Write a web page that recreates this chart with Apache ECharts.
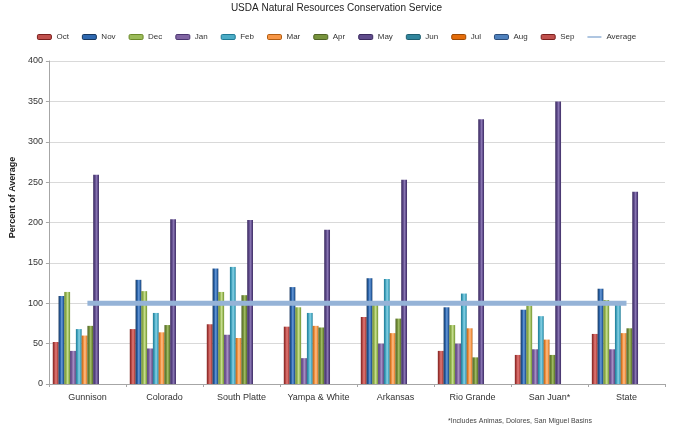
<!DOCTYPE html>
<html><head><meta charset="utf-8">
<script src="https://cdn.jsdelivr.net/npm/echarts@6/dist/echarts.min.js"></script>
<style>html,body{margin:0;padding:0;background:#fff}#c{width:673px;height:431px}</style>
</head><body><div id="c"></div>
<script>
const categories = ['Gunnison','Colorado','South Platte','Yampa & White','Arkansas','Rio Grande','San Juan*','State'];
const months = ['Oct','Nov','Dec','Jan','Feb','Mar','Apr','May','Jun','Jul','Aug','Sep'];
const octVals = [52, 68, 74, 71, 83, 41, 36, 62];
const novVals = [109, 129, 143, 120, 131, 95, 92, 118];
const decVals = [114, 115, 114, 95, 99, 73, 97, 104];
const janVals = [41, 44, 61, 32, 50, 50, 43, 43];
const febVals = [68, 88, 145, 88, 130, 112, 84, 98];
const marVals = [60, 64, 57, 72, 63, 69, 55, 63];
const aprVals = [72, 73, 110, 70, 81, 33, 36, 69];
const mayVals = [259, 204, 203, 191, 253, 328, 350, 238];
const junVals = [null, null, null, null, null, null, null, null];
const julVals = [null, null, null, null, null, null, null, null];
const augVals = [null, null, null, null, null, null, null, null];
const sepVals = [null, null, null, null, null, null, null, null];
const averageVals = [100, 100, 100, 100, 100, 100, 100, 100];
const yTicks = [0, 50, 100, 150, 200, 250, 300, 350, 400];

const monthData = [octVals, novVals, decVals, janVals, febVals, marVals, aprVals, mayVals, junVals, julVals, augVals, sepVals];
const colors = [
  ['#7a1f1d','#c0504d','#e07b78'],
  ['#17375e','#2e68b0','#6a9ad6'],
  ['#6b8a2a','#9bbb59','#c6dc8e'],
  ['#4b3570','#8064a2','#a992c6'],
  ['#1f7a94','#4bacc6','#8ed3e6'],
  ['#b35e12','#f79646','#fbbf8a'],
  ['#4f6326','#77933c','#a2bd67'],
  ['#3a2a5e','#5f4b8b','#8a77b3'],
  ['#1f5f70','#31859c','#6bb6c9'],
  ['#9c4a05','#e46c0a','#f5a25c'],
  ['#2c4d7a','#4f81bd','#86a9d6'],
  ['#7a1f1d','#c0504d','#e07b78']
];
function grad(c){
  return new echarts.graphic.LinearGradient(0,0,1,0,[
    {offset:0,color:c[0]},{offset:0.35,color:c[1]},{offset:0.55,color:c[2]},{offset:0.8,color:c[1]},{offset:1,color:c[0]}
  ]);
}
const series = months.map((m,i)=>({
  name:m, type:'bar', data:monthData[i], barGap:'0%', barCategoryGap:'10%',
  itemStyle:{color:grad(colors[i])}
}));
series.push({
  name:'Average', type:'line', data:averageVals, symbol:'none', z:5,
  lineStyle:{color:'#95b3d7', width:5}, itemStyle:{color:'#95b3d7'}
});
const font = 'Liberation Sans, Arial, sans-serif';
const chart = echarts.init(document.getElementById('c'));
chart.setOption({
  animation:false,
  textStyle:{fontFamily:font},
  title:{text:'USDA Natural Resources Conservation Service', left:'center', top:-2,
    textStyle:{fontSize:10, fontWeight:'normal', color:'#222', fontFamily:font}},
  legend:{top:28, left:'center', itemWidth:14, itemHeight:5, itemGap:13,
    textStyle:{fontSize:8, color:'#333', fontFamily:font},
    data:months.map((m,i)=>({name:m, itemStyle:{color:colors[i][1], borderColor:colors[i][0], borderWidth:1}}))
      .concat([{name:'Average', icon:'path://M0,0 L28,0 L28,3 L0,3 Z', itemStyle:{color:'#95b3d7', borderWidth:0}}])},
  grid:{left:45, right:8, top:61, bottom:47},
  xAxis:{type:'category', data:categories,
    axisLine:{lineStyle:{color:'#a6a6a6'}},
    axisTick:{show:true, length:3, lineStyle:{color:'#a6a6a6'}},
    axisLabel:{interval:0, fontSize:9, color:'#333', margin:9, fontFamily:font}},
  yAxis:{type:'value', min:0, max:400, interval:50,
    name:'Percent of Average', nameLocation:'middle', nameGap:28, nameRotate:90,
    nameTextStyle:{fontSize:9, fontWeight:'bold', color:'#222', fontFamily:font, padding:[0,0,0,50]},
    axisLine:{show:true, lineStyle:{color:'#a6a6a6'}},
    axisTick:{show:true, length:3, lineStyle:{color:'#a6a6a6'}},
    splitLine:{lineStyle:{color:'#d9d9d9'}},
    axisLabel:{fontSize:9, color:'#333', margin:6, fontFamily:font,
      formatter:v=>yTicks.includes(v)?String(v):''}},
  graphic:[{type:'text', left:448, top:418,
    style:{text:'*Includes Animas, Dolores, San Miguel Basins', fontSize:7, fill:'#444', fontFamily:font}}],
  series:series
});
</script></body></html>
